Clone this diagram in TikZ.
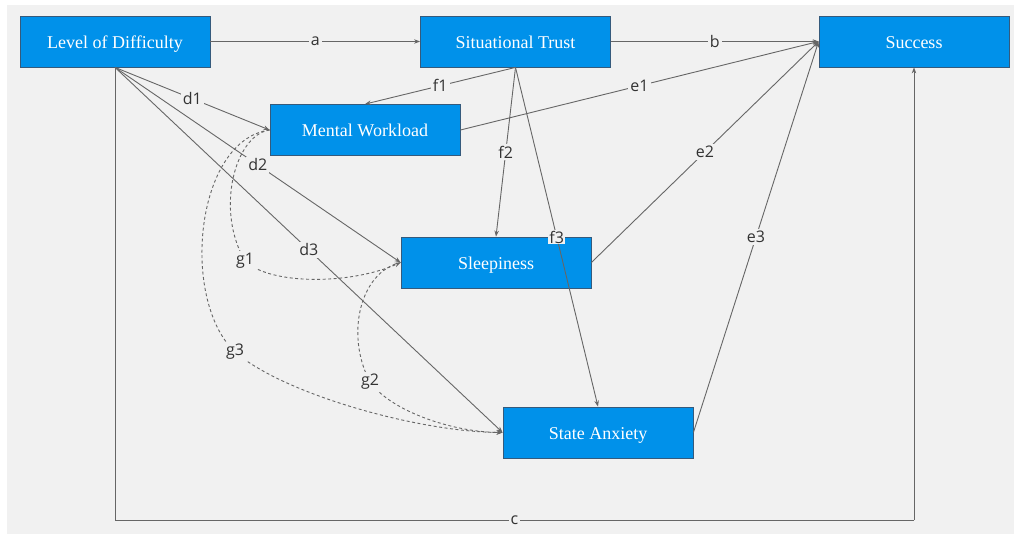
\documentclass[tikz,border=0pt]{standalone}
\usepackage{fontspec}
\setmainfont{Liberation Serif}
\newfontfamily\lblfont{Open Sans}
\usetikzlibrary{arrows.meta}
\definecolor{bgc}{HTML}{F1F1F1}
\definecolor{boxc}{HTML}{0091EA}
\definecolor{boxd}{HTML}{355A7C}
\definecolor{linec}{HTML}{666666}
\definecolor{lblc}{HTML}{333333}
\tikzset{
  box/.style={draw=boxd, line width=0.8pt, fill=boxc, minimum width=190pt, minimum height=51pt,
    text=white, font=\fontsize{18}{20}\selectfont, inner sep=0pt, text height=18pt, text depth=4pt},
  conn/.style={draw=linec, line width=0.9pt, -{Stealth[length=6pt,width=4.5pt]}},
  plainconn/.style={draw=linec, line width=0.9pt},
  dconn/.style={draw=linec, line width=0.9pt, dash pattern=on 3pt off 2.5pt, -{Stealth[length=6pt,width=4.5pt]}},
  glbl/.style={fill=bgc, text=lblc, font=\lblfont\fontsize{16}{18}\selectfont, inner sep=2pt},
  lbl/.style={glbl, midway}
}
\begin{document}
\begin{tikzpicture}[x=1pt,y=-1pt]
\useasboundingbox (0,0) rectangle (1026,537);
\fill[white] (0,0) rectangle (1026,537);
\fill[bgc] (7,5) rectangle (1014,534);

\node[box] (lod) at (115,41.5) {Level of Difficulty};
\node[box] (st)  at (515.5,41.5) {Situational Trust};
\node[box] (suc) at (914,41.5) {Success};
\node[box] (mw)  at (365,130) {Mental Workload};
\node[box] (sl)  at (496,262.5) {Sleepiness};
\node[box] (sa)  at (598,432.5) {State Anxiety};

\coordinate (cl) at (115,520);
\coordinate (cr) at (914,520);
\coordinate (g1p) at (245,261);
\coordinate (g2p) at (370,382);
\coordinate (g3p) at (235,352);

% direct paths
\draw[conn] (lod) -- node[lbl]{a} (st);
\draw[conn] (st) -- node[lbl]{b} (suc.west);
\draw[plainconn] (lod.south) -- (cl) -- node[lbl]{c} (cr);
\draw[conn] (cr) -- (suc.south);

\draw[conn] (lod.south) -- node[lbl]{d1} (mw.west);
\draw[conn] (lod.south) -- node[lbl]{d2} (sl.west);
\draw[conn] (lod.south) -- node[lbl]{d3} (sa.west);

\draw[conn] (mw.east) -- node[lbl]{e1} (suc.west);
\draw[conn] (sl.east) -- node[lbl]{e2} (suc.west);
\draw[conn] (sa.east) -- node[lbl]{e3} (suc.west);

\draw[conn] (st.south) -- node[lbl]{f1} (mw.north);
\draw[conn] (st.south) -- node[lbl]{f2} (sl.north);
\draw[conn] (st.south) -- node[lbl, inner sep=1pt]{f3} (sa.north);

% dashed covariance paths
\draw[dconn] (mw.west) .. controls (235,135) and (215,210) .. (g1p)
  .. controls (270,285) and (350,285) .. (sl.west);
\node[glbl] (g1) at (g1p) {g1};
\draw[dconn] (sl.west) .. controls (360,272) and (345,335) .. (g2p)
  .. controls (390,410) and (450,432) .. (sa.west);
\node[glbl] (g2) at (g2p) {g2};
\draw[dconn] (mw.west) .. controls (195,140) and (180,300) .. (g3p)
  .. controls (285,395) and (420,432) .. (sa.west);
\node[glbl] (g3) at (g3p) {g3};
\end{tikzpicture}
\end{document}
